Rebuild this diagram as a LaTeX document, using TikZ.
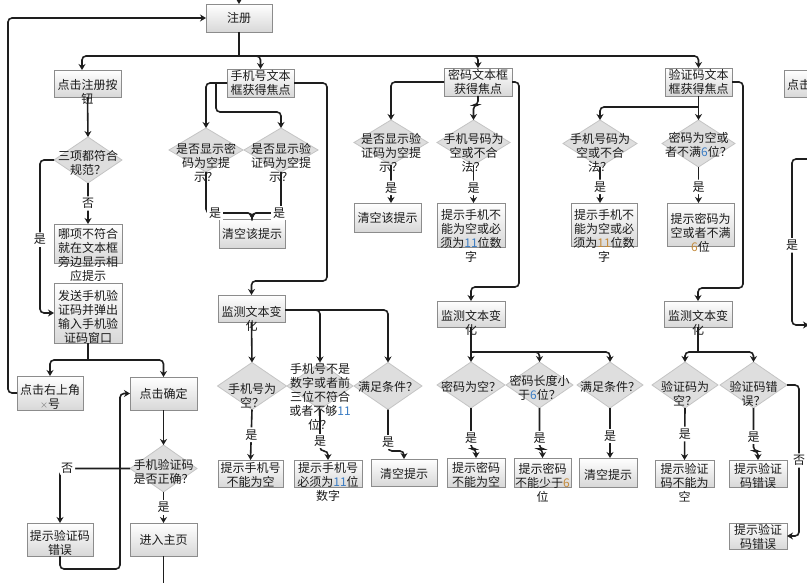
\documentclass[tikz,border=0pt]{standalone}
\usepackage{fontspec}
\newfontfamily\cjk{Noto Sans CJK SC}
\usetikzlibrary{shapes.geometric,arrows.meta}
\definecolor{ln}{HTML}{1E1E1E}
\definecolor{bd}{HTML}{8C8C8C}
\definecolor{dbd}{HTML}{C4C4C4}
\definecolor{dfill}{HTML}{DEDEDE}
\definecolor{bbot}{HTML}{D8D8D8}
\definecolor{numb}{HTML}{3A7CC4}
\definecolor{numo}{HTML}{C48A3A}
\definecolor{txc}{HTML}{1A1A1A}
\newcommand{\numB}[1]{\textcolor{numb}{#1}}
\newcommand{\numO}[1]{\textcolor{numo}{#1}}
\tikzset{
  boxst/.style={draw=bd, line width=0.8pt, top color=white, bottom color=bbot, inner sep=0pt, outer sep=0pt},
  diamst/.style={diamond, draw=dbd, line width=0.8pt, fill=dfill, inner sep=0pt, outer sep=0pt},
  txt/.style={font=\cjk\fontsize{12}{14}\selectfont, text=txc, align=center, inner sep=0pt},
  lbl/.style={font=\cjk\fontsize{12}{14}\selectfont, text=txc, fill=white, inner sep=2pt},
  line/.style={draw=ln, line width=1.6pt, rounded corners=4pt},
  arr/.style={line, -{Stealth[length=6pt,width=7pt]}}
}
\newcommand{\flowbox}[7]{\node[boxst,minimum width=#4,minimum height=#5] (#1) at (#2,#3) {};\node[txt] (#1t) at (#2,#6) {#7};}
\newcommand{\flowdiam}[7]{\node[diamst,minimum width=#4,minimum height=#5] (#1) at (#2,#3) {};\node[txt] (#1t) at (#2,#6) {#7};}
\begin{document}
\begin{tikzpicture}[x=1pt,y=-1pt]
\useasboundingbox[fill=white] (0,0) rectangle (807,583);
\clip (0,0) rectangle (807,583);

% left column
\flowbox{reg}{239}{18}{66}{28}{18}{注册}
\flowbox{clickreg}{87.5}{83.5}{67}{27}{92}{点击注册按\\钮}
\flowdiam{d3}{88}{160}{68}{46}{162.5}{三项都符合\\规范？}
\flowbox{which}{88}{243.5}{68}{39}{255}{哪项不符合\\就在文本框\\旁边显示相\\应提示}
\flowbox{send}{88}{313}{68}{60}{317}{发送手机验\\证码并弹出\\输入手机验\\证码窗口}
\flowbox{xhao}{50}{393}{66}{34}{396.5}{点击右上角\\{\color{gray}\fontsize{8}{8}\selectfont ×}号}
\flowbox{confirm}{163.5}{393.5}{67}{33}{393.5}{点击确定}
\flowdiam{dcode}{163.5}{468.5}{67}{47}{471.5}{手机验证码\\是否正确？}
\flowbox{errL}{60}{539.5}{66}{33}{543}{提示验证码\\错误}
\flowbox{home}{163.5}{539.5}{67}{33}{540}{进入主页}

% phone column
\flowbox{phonebox}{260.5}{83}{67}{28}{83}{手机号文本\\框获得焦点}
\flowdiam{dA}{206}{150}{74}{44}{163}{是否显示密\\码为空提\\示？}
\flowdiam{dB}{281}{150}{74}{44}{163}{是否显示验\\证码为空提\\示？}
\flowbox{clr1}{252}{233.5}{66}{29}{234}{清空该提示}
\flowbox{mon2}{251.5}{308.5}{67}{27}{318.5}{监测文本变\\化}
\flowdiam{d21}{252}{386}{69}{47}{395.5}{手机号为\\空？}
\flowdiam{d22}{320}{386}{66}{47}{397}{手机号不是\\数字或者前\\三位不符合\\或者不够\numB{11}\\位？}
\flowdiam{d23}{388}{386}{68}{47}{387}{满足条件？}
\flowbox{t21}{250.5}{473.5}{65}{27}{475}{提示手机号\\不能为空}
\flowbox{t22}{328}{473.5}{68}{27}{481.5}{提示手机号\\必须为\numB{11}位\\数字}
\flowbox{t23}{404}{472.5}{66}{27}{474}{清空提示}

% password column
\flowbox{pwdbox}{478}{82}{68}{28}{82}{密码文本框\\获得焦点}
\flowdiam{dA3}{391}{142.5}{74}{45}{153}{是否显示验\\证码为空提\\示？}
\flowdiam{dB3}{473.5}{142.5}{73}{45}{153}{手机号码为\\空或不合\\法？}
\flowbox{clr3}{387.5}{217.5}{67}{29}{218}{清空该提示}
\flowbox{tB3}{471}{225}{68}{44}{235.5}{提示手机不\\能为空或必\\须为\numB{11}位数\\字}
\flowbox{mon3}{471}{314}{68}{26}{322.5}{监测文本变\\化}
\flowdiam{d31}{471}{385}{68}{46}{387}{密码为空？}
\flowdiam{d32}{539.5}{385}{67}{46}{388}{密码长度小\\于\numB{6}位？}
\flowdiam{d33}{610}{385}{66}{46}{387}{满足条件？}
\flowbox{t31}{476}{472.5}{58}{29}{475}{提示密码\\不能为空}
\flowbox{t32}{542.5}{472.5}{57}{29}{482.5}{提示密码\\不能少于\numO{6}\\位}
\flowbox{t33}{608}{472.5}{58}{29}{475}{清空提示}

% code column
\flowbox{codebox}{698.5}{82}{67}{28}{82}{验证码文本\\框获得焦点}
\flowdiam{dA4}{600}{143.5}{74}{47}{152.5}{手机号码为\\空或不合\\法？}
\flowdiam{dB4}{698.5}{143.5}{73}{47}{145}{密码为空或\\者不满\numB{6}位？}
\flowbox{tA4}{604}{224.5}{66}{43}{235.5}{提示手机不\\能为空或必\\须为\numO{11}位数\\字}
\flowbox{tB4}{700.5}{224.5}{67}{43}{233}{提示密码为\\空或者不满\\\numO{6}位}
\flowbox{mon4}{698}{314}{68}{26}{322.5}{监测文本变\\化}
\flowdiam{d41}{685}{385}{66}{46}{394}{验证码为\\空？}
\flowdiam{d42}{753.5}{385}{67}{46}{394}{验证码错\\误？}
\flowbox{t41}{684.5}{473.5}{59}{27}{483}{提示验证\\码不能为\\空}
\flowbox{t42}{758}{473.5}{58}{27}{476}{提示验证\\码错误}
\flowbox{t43}{758}{536}{58}{26}{536.5}{提示验证\\码错误}

% partial box at right edge
\node[boxst,minimum width=67,minimum height=27] (pbox) at (817.5,83.5) {};
\node[txt,anchor=west] (pboxt) at (787,85) {点击};

% ---------- connectors ----------
\coordinate (topin) at (239,-3);
\draw[arr] (topin) -- (reg.north);
\draw[arr] (xhao.west) -- ++(-9,0) |- (reg.west);
\coordinate (bus) at (239,56);
\coordinate (crin) at (82,70);
\draw[line] (reg.south) -- (bus);
\draw[arr] (bus) -| (crin);
\draw[arr] (bus) -| (phonebox.north);
\draw[arr] (bus) -| (pwdbox.north);
\draw[arr] (bus) -| (codebox.north);

\draw[arr] (clickreg.south) -- (d3.north);
\draw[arr] (d3.south) -- node[lbl] (lf1) {否} (which.north);
\draw[arr] (d3.west) -- ++(-14,0) |- node[lbl,pos=0.26] (ly0) {是} (send.west);
\coordinate (sj) at (88,360);
\draw[line] (send.south) -- (sj);
\draw[arr] (sj) -| (xhao.north);
\draw[arr] (sj) -| (confirm.north);
\draw[arr] (confirm.south) -- (dcode.north);
\coordinate (retc) at (120,393.5);
\draw[arr] (errL.south) -- ++(0,13) -| (retc) -- (confirm.west);
\draw[arr] (dcode.west) -| node[lbl,pos=0.45] (lf2) {否} (errL.north);
\draw[arr] (dcode.south) -- node[lbl] (ly1) {是} (home.north);
\draw[line] (home.south) -- ++(0,40);

% phone column
\draw[arr] (phonebox.west) -| (dA.north);
\draw[arr] ([xshift=-11]phonebox.west) -- ++(0,29) -| (dB.north);
\draw[arr] (phonebox.east) -| (327,281) -| (mon2.north);
\draw[arr] (dA.south) |- ([yshift=6]clr1.north) -- (clr1.north);
\draw[arr] (dB.south) |- ([yshift=6]clr1.north) -- (clr1.north);
\node[lbl] (ly2) at (215,213) {是};
\node[lbl] (ly3) at (279,213) {是};
\draw[arr] (mon2.south) -- (d21.north);
\draw[arr] ([yshift=-1.5]mon2.east) -| (d22.north);
\draw[arr] ([yshift=-1.5]mon2.east) -| (d23.north);
\draw[arr] (d21.south) -- node[lbl] (ly4) {是} (t21.north);
\draw[arr] (d22.south) |- ([yshift=9]t22.north) -- (t22.north);
\draw[arr] (d23.south) |- ([yshift=8]t23.north) -- (t23.north);
\node[lbl] (ly5) at (320,441) {是};
\node[lbl] (ly6) at (388,442) {是};

% password column
\draw[arr] (pwdbox.west) -| (dA3.north);
\draw[arr] (pwdbox.south) -- ++(0,9) -| (dB3.north);
\draw[arr] (pwdbox.east) -| (519,287) -| (mon3.north);
\draw[arr] (dA3.south) -- node[lbl,pos=0.6] (ly7) {是} (dA3.south |- clr3.north);
\draw[arr] (dB3.south) -- node[lbl,pos=0.6] (ly8) {是} (dB3.south |- tB3.north);
\coordinate (m3j) at (471,352);
\draw[line] (mon3.south) -- (m3j);
\draw[arr] (m3j) -- (d31.north);
\draw[arr] (m3j) -| (d32.north);
\draw[arr] (m3j) -| (d33.north);
\draw[arr] (d31.south) |- ([yshift=9]t31.north) -- (t31.north);
\draw[arr] (d32.south) |- ([yshift=9]t32.north) -- (t32.north);
\draw[arr] (d33.south) -- (d33.south |- t33.north);
\node[lbl] (ly9) at (471,438) {是};
\node[lbl] (ly10) at (539.5,438) {是};
\node[lbl] (ly11) at (610,436) {是};

% code column
\coordinate (c4j) at (698.5,107);
\draw[line] (codebox.south) -- (c4j);
\draw[arr] (c4j) -| (dA4.north);
\draw[arr] (c4j) -- (dB4.north);
\draw[arr] (codebox.east) -| (743,288) -| (mon4.north);
\draw[arr] (dA4.south) -- node[lbl,pos=0.55] (ly12) {是} (dA4.south |- tA4.north);
\draw[arr] (dB4.south) -- node[lbl,pos=0.55] (ly13) {是} (dB4.south |- tB4.north);
\coordinate (m4j) at (698,352);
\draw[line] (mon4.south) -- (m4j);
\draw[arr] (m4j) -| (d41.north);
\draw[arr] (m4j) -| (d42.north);
\draw[arr] (d41.south) -- node[lbl] (ly14) {是} (t41.north);
\draw[arr] (d42.south) |- ([yshift=9]t42.north) -- (t42.north);
\node[lbl] (ly15) at (753.5,437) {是};
\draw[arr] (d42.east) -- ++(12,0) |- node[lbl,pos=0.25] (lf3) {否} (t43.east);

% right edge partial connector
\coordinate (rr1) at (815,159);
\coordinate (rrc) at (792,325);
\coordinate (rr2) at (809,325);
\draw[arr] (rr1) -| node[lbl,pos=0.76] (ly16) {是} (rrc) -- (rr2);
\end{tikzpicture}
\end{document}
